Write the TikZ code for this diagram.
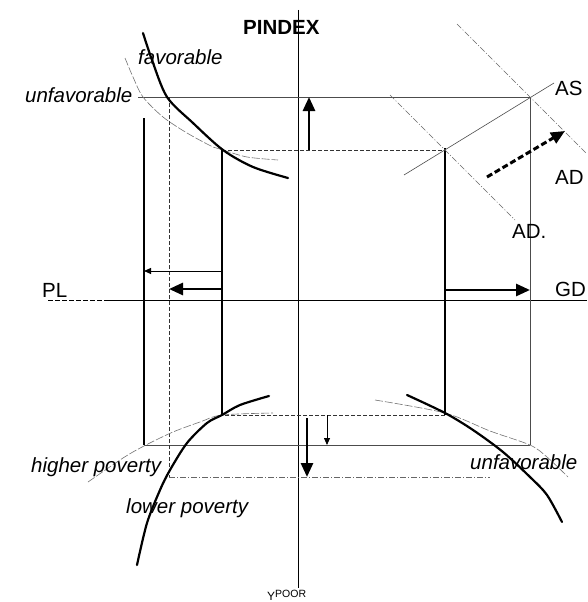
\documentclass[tikz,border=0pt]{standalone}
\usepackage{fontspec}
\setmainfont{Liberation Sans}
\usetikzlibrary{arrows.meta}
\begin{document}
\begin{tikzpicture}[x=1pt,y=-1pt,
  lbl/.style={font=\fontsize{20.5}{22}\selectfont, inner sep=0pt, anchor=base west},
  ilbl/.style={font=\fontsize{20.5}{22}\selectfont\itshape, inner sep=0pt, anchor=base west},
  axisline/.style={line width=1pt, black},
  thinline/.style={line width=0.6pt, black!70},
  guideline/.style={line width=1.1pt, black},
  dashline/.style={line width=0.7pt, black!80, dash pattern=on 4pt off 2pt},
  dashdotline/.style={line width=0.6pt, black!60, dash pattern=on 6pt off 2pt on 1pt off 2pt},
  curvethick/.style={line width=2.2pt, black, line cap=round},
  curvethin/.style={line width=0.6pt, black!55},
  bigarrow/.style={line width=2.8pt, -{Triangle[length=14pt,width=12pt]}},
  smallarrow/.style={line width=1pt, -{Triangle[length=7pt,width=6pt]}}
]
\useasboundingbox (0,0) rectangle (587,602);

% key points
\coordinate (vtop) at (298,10);
\coordinate (vbot) at (298,588);
\coordinate (hleft) at (48,300);
\coordinate (hdash) at (105,300);
\coordinate (hright) at (587,300);
\coordinate (A1) at (222,150);
\coordinate (A2) at (445,150);
\coordinate (A3) at (445,415);
\coordinate (A4) at (222,415);
\coordinate (B0) at (138,97);
\coordinate (B1) at (169,97);
\coordinate (B2) at (530,97);
\coordinate (B3) at (530,445);
\coordinate (B4) at (144,445);
\coordinate (B5) at (144,118);
\coordinate (B6) at (169,477);
\coordinate (B7) at (490,477);
\coordinate (A2t) at (445,148);

% axes
\draw[axisline] (vtop) -- (vbot);
\draw[axisline, dash pattern=on 5pt off 2pt] (hleft) -- (hdash);
\draw[axisline] (hdash) -- (hright);

% guide lines
\draw[thinline] (B0) -- (B2);
\draw[thinline] (B2) -- (B3);
\draw[thinline] (B3) -- (B4);
\draw[guideline] (B5) -- (B4);
\draw[dashline] (B1) -- (B6);
\draw[dashdotline] (B6) -- (B7);
\draw[dashline] (A1) -- (A2);
\draw[guideline] (A2t) -- (A3);
\draw[dashline] (A3) -- (A4);
\draw[guideline] (A4) -- (A1);

% AS / AD lines
\coordinate (ASa) at (404,175);
\coordinate (ASb) at (554,83);
\draw[thinline] (ASa) -- (ASb);
\coordinate (ADoa) at (390,95);
\coordinate (ADob) at (515,220);
\draw[dashdotline] (ADoa) -- (ADob);
\coordinate (ADna) at (457,24);
\coordinate (ADnb) at (587,154);
\draw[dashdotline] (ADna) -- (ADnb);

% curves top-left
\draw[curvethin, dash pattern=on 8pt off 2pt] plot[smooth] coordinates {(125,58) (133,77) (143,97) (163,117) (187,133) (213,147) (223,150) (247,157) (278,160)};
\draw[curvethick] plot[smooth] coordinates {(143,33) (152,60) (167,97) (193,123) (223,150) (253,167) (288,178)};

% curves bottom-left
\draw[curvethin, dash pattern=on 8pt off 2pt] plot[smooth] coordinates {(88,482) (123,458) (144,446) (173,432) (200,422) (222,415) (273,413)};
\draw[curvethick] plot[smooth] coordinates {(137,565) (147,523) (160,490) (170,470) (187,443) (207,423) (222,415) (240,405) (269,396)};

% curves bottom-right
\draw[curvethin, dash pattern=on 8pt off 2pt] plot[smooth] coordinates {(375,400) (445,413) (490,431) (530,445) (547,457) (568,477)};
\draw[curvethick] plot[smooth] coordinates {(407,395) (445,413) (473,430) (503,452) (530,477) (547,495) (562,522)};

% arrows
\coordinate (upS) at (309,150);
\coordinate (upE) at (309,97);
\draw[bigarrow] (upS) -- (upE);
\coordinate (rS) at (445,290);
\coordinate (rE) at (530,290);
\draw[bigarrow] (rS) -- (rE);
\coordinate (lS) at (222,289);
\coordinate (lE) at (169,289);
\draw[bigarrow] (lS) -- (lE);
\coordinate (ltS) at (222,271);
\coordinate (ltE) at (144,271);
\draw[smallarrow] (ltS) -- (ltE);
\coordinate (dS) at (307,418);
\coordinate (dE) at (307,477);
\draw[bigarrow] (dS) -- (dE);
\coordinate (dtS) at (327,415);
\coordinate (dtE) at (327,445);
\draw[smallarrow, line width=0.8pt] (dtS) -- (dtE);
\coordinate (shS) at (487,177);
\coordinate (shE) at (565,131);
\draw[line width=3pt, dash pattern=on 6pt off 3pt, -{Triangle[length=14pt,width=12pt]}] (shS) -- (shE);

% labels
\node[lbl, font=\fontsize{20.5}{22}\selectfont\bfseries] (pindex) at (243,35) {PINDEX};
\node[ilbl] (fav) at (138,65) {favorable};
\node[ilbl] (unfav1) at (25,102) {unfavorable};
\node[lbl] (as) at (555,95) {AS};
\node[lbl] (adn) at (555,184) {AD};
\node[lbl] (ado) at (512,238) {AD.};
\node[lbl] (pl) at (42,297) {PL};
\node[lbl] (gd) at (555,296) {GD};
\node[ilbl] (hp) at (31,472) {higher poverty};
\node[ilbl] (lp) at (126,513) {lower poverty};
\node[ilbl] (unfav2) at (470,469) {unfavorable};
\node[inner sep=0pt, anchor=base west, font=\fontsize{12}{13}\selectfont] (ypoor) at (267,600) {Y\raisebox{3pt}{\fontsize{10.5}{11}\selectfont POOR}};
\end{tikzpicture}
\end{document}
